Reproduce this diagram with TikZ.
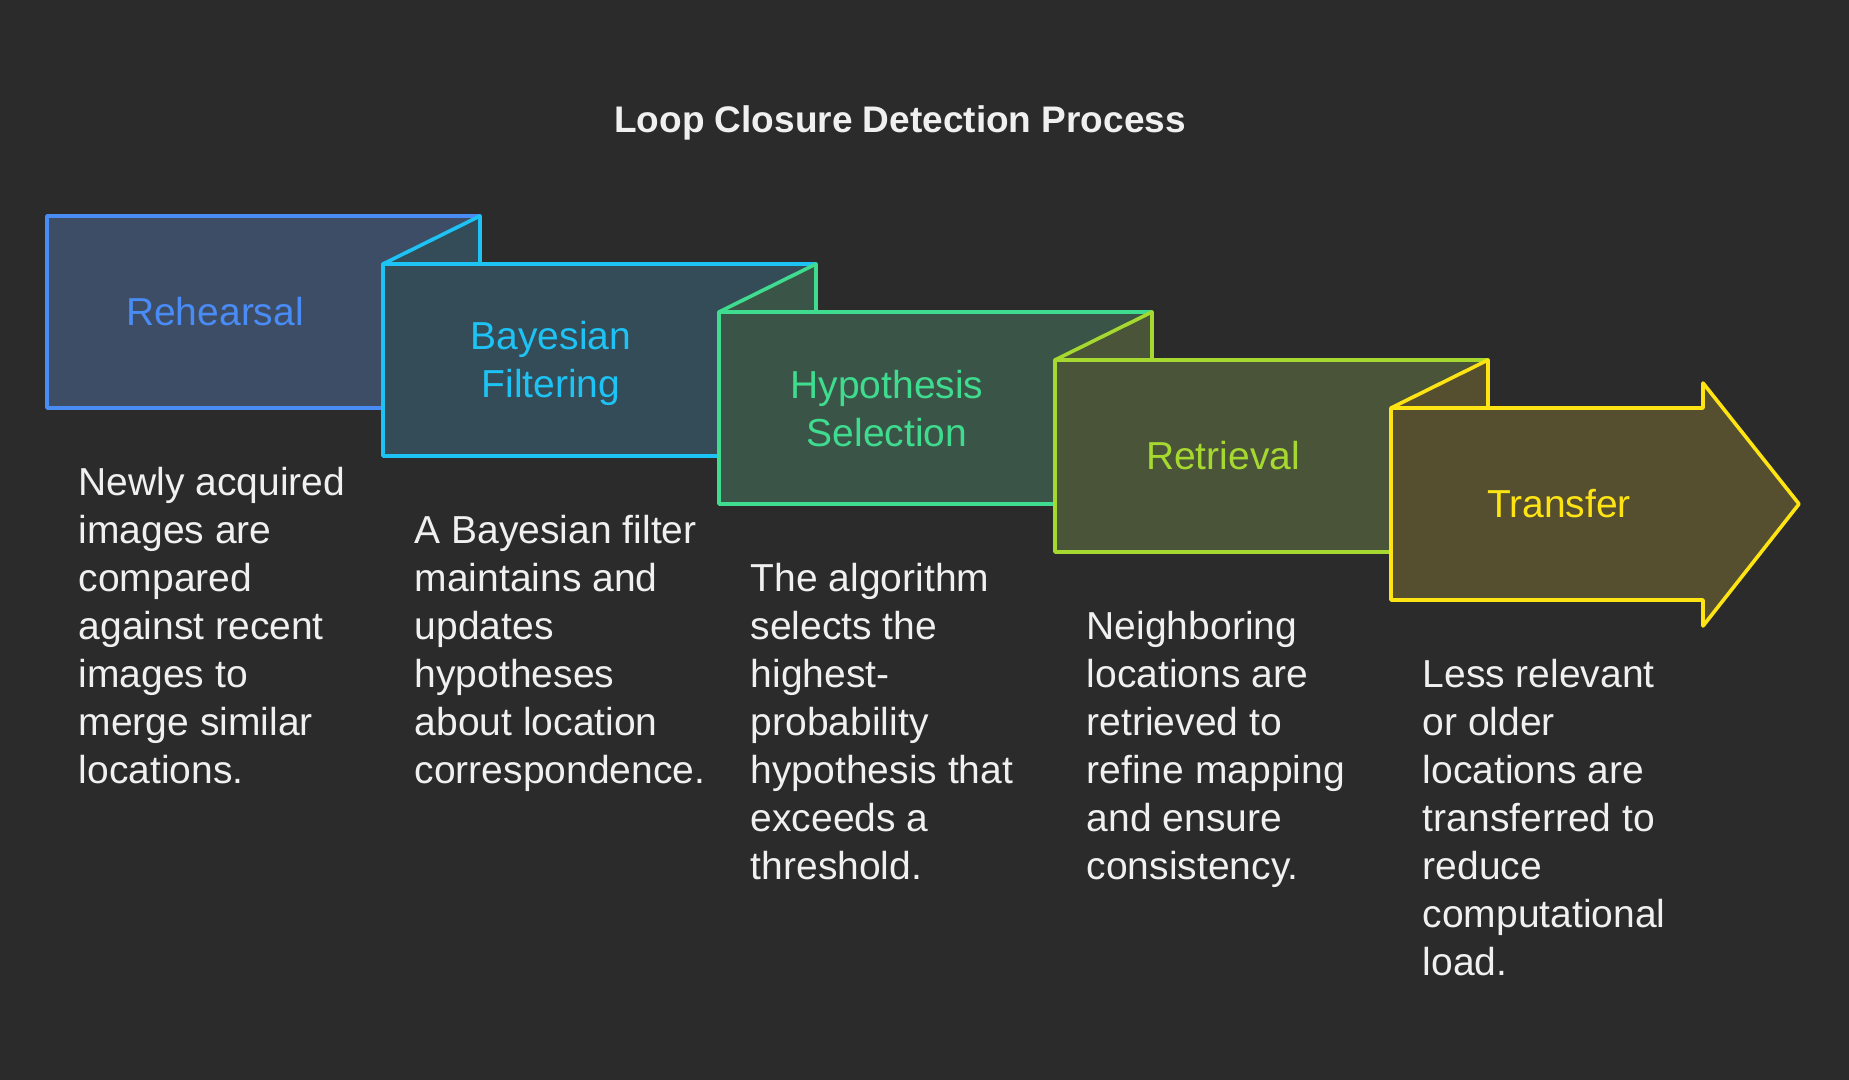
\documentclass[tikz,border=0pt]{standalone}
\usepackage{fontspec}
\setmainfont{Liberation Sans}
\definecolor{bgcol}{HTML}{2B2B2B}
\definecolor{desctext}{HTML}{F0F0F0}
\definecolor{rehline}{HTML}{4A8CF5}
\definecolor{rehfill}{HTML}{3D4D66}
\definecolor{bayline}{HTML}{1EC3F5}
\definecolor{bayfill}{HTML}{334C57}
\definecolor{hypline}{HTML}{3FDB8E}
\definecolor{hypfill}{HTML}{3A5547}
\definecolor{retline}{HTML}{A6D930}
\definecolor{retfill}{HTML}{4A5439}
\definecolor{traline}{HTML}{FFE414}
\definecolor{trafill}{HTML}{554F30}

\begin{document}
\begin{tikzpicture}[x=0.5pt,y=-0.5pt,line width=1.8pt,line join=round,
	boxlabel/.style={font=\fontsize{19.5}{24}\selectfont,align=center,inner sep=0pt},
	desc/.style={anchor=north west,inner sep=0pt,text=desctext,align=left,font=\fontsize{19.5}{24}\selectfont}]
	\pgfmathsetmacro\BW{433}
	\pgfmathsetmacro\BH{192}
	\pgfmathsetmacro\DX{336}
	\pgfmathsetmacro\DY{48}
	\pgfmathsetmacro\FX{\BW-\DX}
	\pgfmathsetmacro\XA{47}
	\pgfmathsetmacro\YA{216}
	\pgfmathsetmacro\XB{\XA+\DX}
	\pgfmathsetmacro\YB{\YA+\DY}
	\pgfmathsetmacro\XC{\XB+\DX}
	\pgfmathsetmacro\YC{\YB+\DY}
	\pgfmathsetmacro\XD{\XC+\DX}
	\pgfmathsetmacro\YD{\YC+\DY}
	\pgfmathsetmacro\XE{\XD+\DX}
	\pgfmathsetmacro\YE{\YD+\DY}
	
	\useasboundingbox (0,0) rectangle (1849,1080);
	\fill[bgcol] (0,0) rectangle (1849,1080);
	\draw node[font=\fontsize{18.5}{22}\selectfont\bfseries,text=desctext] (title) at (900,123) {Loop Closure Detection Process};
	
	\draw[rehline,fill=rehfill] (\XA,\YA) rectangle ++(\BW,\BH);
	\draw[bayline,fill=bayfill] (\XB,\YB) rectangle ++(\BW,\BH);
	\draw[bayline,fill=bayfill] (\XB,\YB) -- ++(\FX,-\DY) -- ++(0,\DY) -- cycle;
	\draw[hypline,fill=hypfill] (\XC,\YC) rectangle ++(\BW,\BH);
	\draw[hypline,fill=hypfill] (\XC,\YC) -- ++(\FX,-\DY) -- ++(0,\DY) -- cycle;
	\draw[retline,fill=retfill] (\XD,\YD) rectangle ++(\BW,\BH);
	\draw[retline,fill=retfill] (\XD,\YD) -- ++(\FX,-\DY) -- ++(0,\DY) -- cycle;
	\draw[traline,fill=trafill] (\XE,\YE) -- ++(312,0) -- ++(0,-25) -- (\XE+408,\YE+\BH/2) -- (\XE+312,\YE+\BH+26) -- ++(0,-26) -- (\XE,\YE+\BH) -- cycle;
	\draw[traline,fill=trafill] (\XE,\YE) -- ++(\FX,-\DY) -- ++(0,\DY) -- cycle;
	
	\draw node[boxlabel,text=rehline] (rehearsal) at (\XA+\DX/2,\YA+\BH/2) {Rehearsal};
	\draw node[boxlabel,text=bayline] (bayesian) at (\XB+\DX/2,\YB+\BH/2+3) {Bayesian\\Filtering};
	\draw node[boxlabel,text=hypline] (hypothesis) at (\XC+\DX/2,\YC+\BH/2+1) {Hypothesis\\Selection};
	\draw node[boxlabel,text=retline] (retrieval) at (\XD+\DX/2,\YD+\BH/2) {Retrieval};
	\draw node[boxlabel,text=traline] (transfer) at (\XE+\DX/2,\YE+\BH/2) {Transfer};
	
	\draw node[desc] (rehearsaltext) at (\XA+30,\YA+\BH+57) {Newly acquired\\images are\\compared\\against recent\\images to\\merge similar\\locations.};
	\draw node[desc] (bayesiantext) at (\XB+30,\YB+\BH+57) {A Bayesian filter\\maintains and\\updates\\hypotheses\\about location\\correspondence.};
	\draw node[desc] (hypothesistext) at (\XC+30,\YC+\BH+57) {The algorithm\\selects the\\highest-\\probability\\hypothesis that\\exceeds a\\threshold.};
	\draw node[desc] (retrievaltext) at (\XD+30,\YD+\BH+57) {Neighboring\\locations are\\retrieved to\\refine mapping\\and ensure\\consistency.};
	\draw node[desc] (transfertext) at (\XE+30,\YE+\BH+57) {Less relevant\\or older\\locations are\\transferred to\\reduce\\computational\\load.};
\end{tikzpicture}
\end{document}
